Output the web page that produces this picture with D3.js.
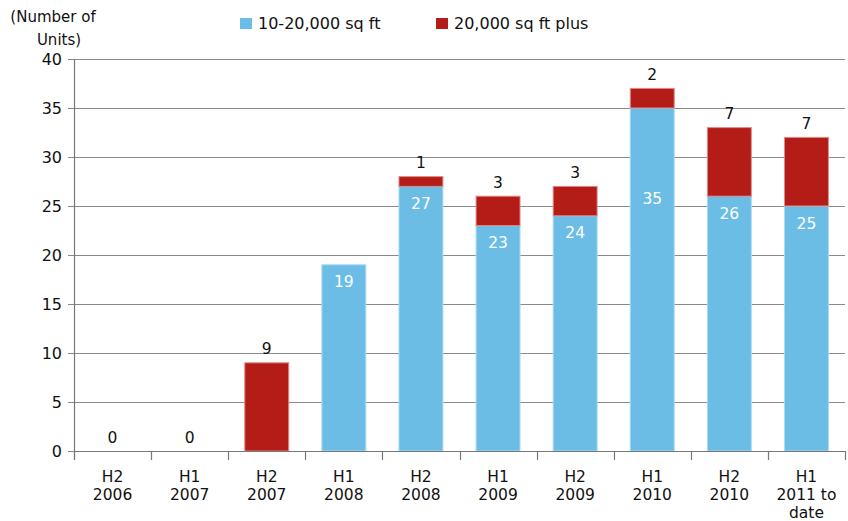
<!DOCTYPE html>
<html>
<head>
<meta charset="utf-8">
<script src="https://cdn.jsdelivr.net/npm/d3@7"></script>
<style>
  body { margin: 0; background: white; }
  text { font-family: "DejaVu Sans", sans-serif; }
</style>
</head>
<body>
<div id="myVis"></div>
<script>
const width = 848, height = 521
const margin = {top: 59, right: 3, bottom: 69, left: 74}

// data
const periods = ["H2|2006", "H1|2007", "H2|2007", "H1|2008", "H2|2008", "H1|2009", "H2|2009", "H1|2010", "H2|2010", "H1|2011 to|date"]
const small = [0, 0, 0, 19, 27, 23, 24, 35, 26, 25]   // 10-20,000 sq ft
const large = [0, 0, 9, 0, 1, 3, 3, 2, 7, 7]          // 20,000 sq ft plus
const yTicks = [0, 5, 10, 15, 20, 25, 30, 35, 40]
const seriesNames = ["10-20,000 sq ft", "20,000 sq ft plus"]
const colors = ["#6bbde6", "#b31c17"]

const rows = periods.map((p, i) => ({p: p, a: small[i], b: large[i]}))

const svg = d3.select("#myVis")
  .append("svg")
    .attr("width", width)
    .attr("height", height)
    .style("background-color", "white")

const x = d3.scaleBand()
  .domain(periods)
  .range([margin.left, width - margin.right])
  .paddingInner(0.43)
  .paddingOuter(0.215)
const y = d3.scaleLinear().domain([0, 40]).range([height - margin.bottom - 1, margin.top])

const gap = (x.step() - x.bandwidth()) / 2

// gridlines
svg.append("g")
  .selectAll("line")
  .data(yTicks)
  .enter()
  .append("line")
    .attr("x1", margin.left - 6)
    .attr("x2", width - margin.right)
    .attr("y1", d => Math.round(y(d)) + 0.5)
    .attr("y2", d => Math.round(y(d)) + 0.5)
    .attr("stroke", "#8a8a8a")
    .attr("stroke-width", 1)

// y labels
svg.append("g")
  .selectAll("text")
  .data(yTicks)
  .enter()
  .append("text")
    .attr("x", margin.left - 12)
    .attr("y", d => y(d))
    .attr("dy", "0.36em")
    .attr("text-anchor", "end")
    .style("font-size", "16px")
    .style("fill", "#111")
    .text(d => d)

// bars
const barG = svg.append("g")
barG.selectAll(".small")
  .data(rows.filter(d => d.a > 0))
  .enter()
  .append("rect")
    .attr("x", d => x(d.p))
    .attr("width", x.bandwidth())
    .attr("y", d => y(d.a))
    .attr("height", d => y(0) - y(d.a))
    .attr("fill", colors[0])
    .attr("stroke", "#a9dbf3")
    .attr("stroke-width", 1)

barG.selectAll(".large")
  .data(rows.filter(d => d.b > 0))
  .enter()
  .append("rect")
    .attr("x", d => x(d.p))
    .attr("width", x.bandwidth())
    .attr("y", d => y(d.a + d.b))
    .attr("height", d => y(d.a) - y(d.a + d.b))
    .attr("fill", colors[1])
    .attr("stroke", "#e08a88")
    .attr("stroke-width", 1)

// axes lines
svg.append("line")
  .attr("x1", margin.left + 0.5).attr("x2", margin.left + 0.5)
  .attr("y1", y(40)).attr("y2", y(0) + 9)
  .attr("stroke", "#777").attr("stroke-width", 1.2)

svg.append("line")
  .attr("x1", margin.left).attr("x2", width - margin.right)
  .attr("y1", Math.round(y(0)) + 0.5).attr("y2", Math.round(y(0)) + 0.5)
  .attr("stroke", "#777").attr("stroke-width", 1.2)

const bounds = periods.map(p => x(p) - gap).concat([width - margin.right])
svg.append("g")
  .selectAll("line")
  .data(bounds)
  .enter()
  .append("line")
    .attr("x1", d => Math.round(d) + 0.5)
    .attr("x2", d => Math.round(d) + 0.5)
    .attr("y1", y(0))
    .attr("y2", y(0) + 9)
    .attr("stroke", "#777")
    .attr("stroke-width", 1.2)

// category labels, one text per line
const catLines = []
periods.forEach(p => p.split("|").forEach((s, i) => catLines.push({p: p, s: s, i: i})))
svg.append("g")
  .selectAll("text")
  .data(catLines)
  .enter()
  .append("text")
    .attr("x", d => x(d.p) + x.bandwidth() / 2)
    .attr("y", d => y(0) + 25 + d.i * 18)
    .attr("dy", "0.36em")
    .attr("text-anchor", "middle")
    .style("font-size", "15.5px")
    .style("fill", "#111")
    .text(d => d.s)

// value labels inside blue bars
svg.append("g")
  .selectAll("text")
  .data(rows.filter(d => d.a > 0))
  .enter()
  .append("text")
    .attr("x", d => x(d.p) + x.bandwidth() / 2)
    .attr("y", d => Math.max(y(d.a) + 17, y(25.8)))
    .attr("dy", "0.36em")
    .attr("text-anchor", "middle")
    .style("font-size", "15.5px")
    .style("fill", "white")
    .text(d => d.a)

// value labels above bars (20,000 plus count)
svg.append("g")
  .selectAll("text")
  .data(rows.filter(d => d.b > 0 || d.a === 0))
  .enter()
  .append("text")
    .attr("x", d => x(d.p) + x.bandwidth() / 2)
    .attr("y", d => y(d.a + d.b) - 14)
    .attr("dy", "0.36em")
    .attr("text-anchor", "middle")
    .style("font-size", "15.5px")
    .style("fill", "#111")
    .text(d => d.b)

// unit title
svg.append("text")
  .attr("x", 53).attr("y", 17)
  .attr("dy", "0.36em")
  .attr("text-anchor", "middle")
  .style("font-size", "15px").style("fill", "#111")
  .text("(Number of")
svg.append("text")
  .attr("x", 59).attr("y", 40)
  .attr("dy", "0.36em")
  .attr("text-anchor", "middle")
  .style("font-size", "15px").style("fill", "#111")
  .text("Units)")

// legend
const legendX = [240, 436]
const legend = svg.append("g")
  .selectAll("g")
  .data(seriesNames)
  .enter()
  .append("g")
    .attr("transform", (d, i) => "translate(" + legendX[i] + ",18)")
legend.append("rect")
  .attr("width", 12).attr("height", 11)
  .attr("fill", (d, i) => colors[i])
legend.append("text")
  .attr("x", 18).attr("y", 5.5)
  .attr("dy", "0.36em")
  .style("font-size", "16px").style("fill", "#111")
  .text(d => d)
</script>
</body>
</html>
